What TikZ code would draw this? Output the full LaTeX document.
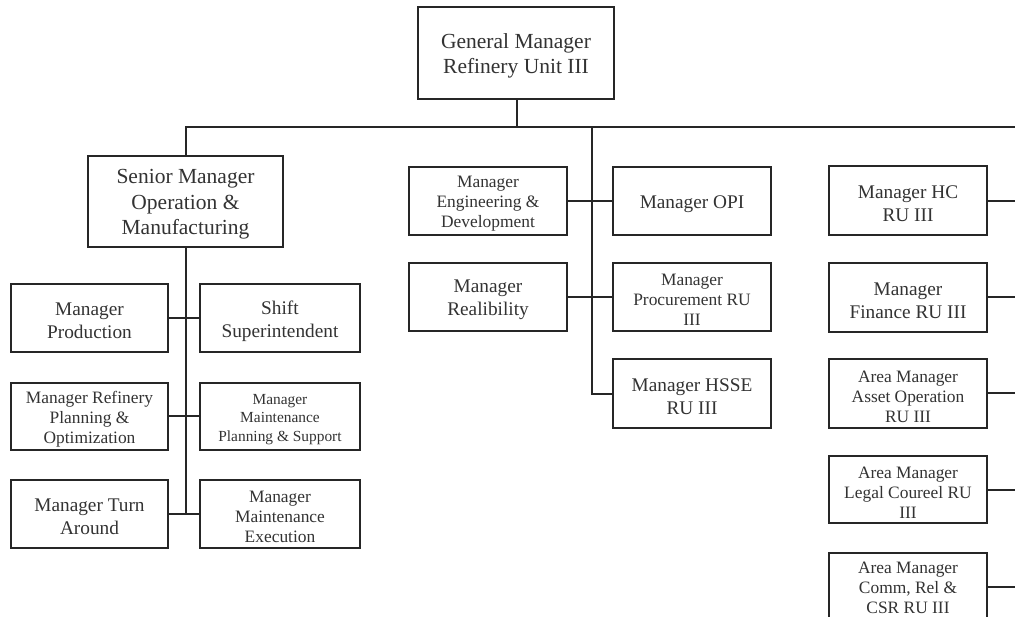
\documentclass[tikz,border=0pt]{standalone}
\usepackage{fontspec}
\setmainfont{Liberation Serif}
\begin{document}
\begin{tikzpicture}[x=1pt,y=-1pt,
  box/.style={draw=black!85, line width=1.4pt, fill=white,
    inner sep=0pt, outer sep=0pt},
  lt/.style={align=center, text=black!80, inner sep=0pt, yshift=-3pt},
  fa/.style={font=\fontsize{21.5}{25.7}\selectfont},
  fb/.style={font=\fontsize{19.3}{23.3}\selectfont},
  fc/.style={font=\fontsize{17.4}{20}\selectfont},
  fd/.style={font=\fontsize{15.4}{18.7}\selectfont},
  ln/.style={draw=black!85, line width=1.4pt}]
\useasboundingbox (0,0) rectangle (1015,617);
\clip (0,0) rectangle (1015,617);
\fill[white] (0,0) rectangle (1015,617);
% top
\node[box,minimum width=196pt,minimum height=92pt,label={[lt,fa]center:{General Manager\\Refinery Unit III}}] (gm) at (516,53) {};
\node[box,minimum width=195pt,minimum height=91pt,label={[lt,fa]center:{Senior Manager\\Operation \&\\Manufacturing}}] (sen) at (185.5,201.5) {};
% left column
\node[box,minimum width=157pt,minimum height=68pt,label={[lt,fb]center:{Manager\\Production}}] (prod) at (89.5,318) {};
\node[box,minimum width=160pt,minimum height=68pt,label={[lt,fb]center:{Shift\\Superintendent}}] (shift) at (280,318) {};
\node[box,minimum width=157pt,minimum height=67pt,label={[lt,fc]center:{Manager Refinery\\Planning \&\\Optimization}}] (rpo) at (89.5,416.5) {};
\node[box,minimum width=160pt,minimum height=67pt,label={[lt,fd]center:{Manager\\Maintenance\\Planning \& Support}}] (mps) at (280,416.5) {};
\node[box,minimum width=157pt,minimum height=68pt,label={[lt,fb]center:{Manager Turn\\Around}}] (turn) at (89.5,514) {};
\node[box,minimum width=160pt,minimum height=68pt,label={[lt,fc]center:{Manager\\Maintenance\\Execution}}] (mex) at (280,514) {};
% middle column
\node[box,minimum width=158pt,minimum height=68pt,label={[lt,fc]center:{Manager\\Engineering \&\\Development}}] (eng) at (488,201) {};
\node[box,minimum width=158pt,minimum height=68pt,label={[lt,fb]center:{Manager OPI}}] (opi) at (692,201) {};
\node[box,minimum width=158pt,minimum height=68pt,label={[lt,fb]center:{Manager\\Realibility}}] (real) at (488,297) {};
\node[box,minimum width=158pt,minimum height=68pt,label={[lt,fc]center:{Manager\\Procurement RU\\III}}] (proc) at (692,297) {};
\node[box,minimum width=158pt,minimum height=69pt,label={[lt,fb]center:{Manager HSSE\\RU III}}] (hsse) at (692,393.5) {};
% right column
\node[box,minimum width=158pt,minimum height=69pt,label={[lt,fb]center:{Manager HC\\RU III}}] (hc) at (908,200.5) {};
\node[box,minimum width=158pt,minimum height=69pt,label={[lt,fb]center:{Manager\\Finance RU III}}] (fin) at (908,297.5) {};
\node[box,minimum width=158pt,minimum height=69pt,label={[lt,fc]center:{Area Manager\\Asset Operation\\RU III}}] (asset) at (908,393.5) {};
\node[box,minimum width=158pt,minimum height=67pt,label={[lt,fc]center:{Area Manager\\Legal Coureel RU\\III}}] (legal) at (908,489.5) {};
\node[box,minimum width=158pt,minimum height=68pt,label={[lt,fc,yshift=2pt]center:{Area Manager\\Comm, Rel \&\\CSR RU III}}] (comm) at (908,587) {};
% coordinates
\coordinate (bus) at (517,127);
\coordinate (busR) at (1016,127);
\coordinate (mid) at (592,127);
\coordinate (spine) at (186,247);
\coordinate (hsseY) at (592,394);
\coordinate (rpoY) at (186,416);
\coordinate (rHC) at (1016,201);
\coordinate (rFin) at (1016,297);
\coordinate (rAsset) at (1016,393);
\coordinate (rLegal) at (1016,490);
\coordinate (rComm) at (1016,587);
% connectors
\draw[ln] (gm.south -| bus) -- (bus);
\draw[ln] (sen.north -| spine) |- (busR);
\draw[ln] (mid) -- (hsseY) -- (hsse.west |- hsseY);
\draw[ln] (eng.east) -- (opi.west);
\draw[ln] (real.east) -- (proc.west);
\draw[ln] (spine) -- (spine |- turn.east);
\draw[ln] (prod.east) -- (shift.west);
\draw[ln] (rpo.east |- rpoY) -- (mps.west |- rpoY);
\draw[ln] (turn.east) -- (mex.west);
\draw[ln] (hc.east |- rHC) -- (rHC);
\draw[ln] (fin.east |- rFin) -- (rFin);
\draw[ln] (asset.east |- rAsset) -- (rAsset);
\draw[ln] (legal.east |- rLegal) -- (rLegal);
\draw[ln] (comm.east |- rComm) -- (rComm);
\end{tikzpicture}
\end{document}
